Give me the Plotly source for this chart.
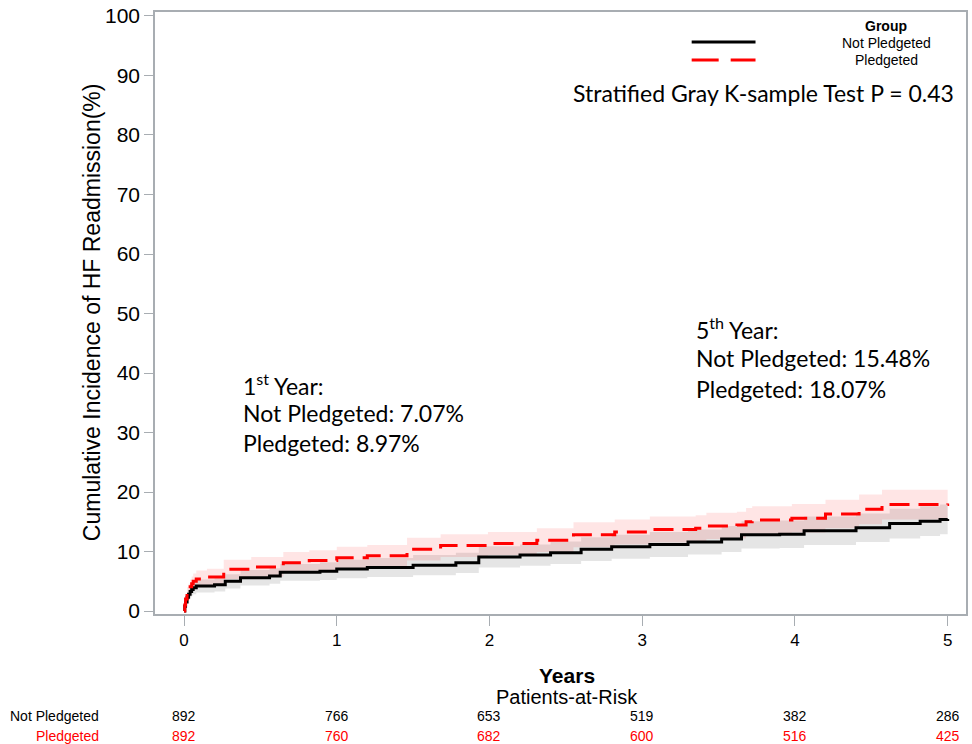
import plotly.graph_objects as go

# ---- data ----
t_not = [0, 0.005, 0.01, 0.02, 0.03, 0.04, 0.05, 0.06, 0.08, 0.2, 0.27, 0.37, 0.56, 0.63, 0.89, 1.0, 1.2,
         1.5, 1.78, 1.93, 2.2, 2.4, 2.6, 2.8, 3.05, 3.3, 3.52, 3.65, 3.9, 4.06, 4.4, 4.62, 4.82, 4.95, 5.0]
cif_not = [0, 0.8, 1.5, 2.3, 2.8, 3.3, 3.6, 3.9, 4.2, 4.4, 5.0, 5.6, 5.9, 6.5, 6.7, 7.07, 7.3,
           7.7, 8.1, 9.1, 9.4, 9.8, 10.4, 10.8, 11.2, 11.6, 12.1, 12.8, 12.9, 13.5, 14.0, 14.7, 15.1, 15.4, 15.48]
lo_not = [0, 0.3, 0.8, 1.4, 1.9, 2.3, 2.6, 2.8, 3.1, 3.3, 3.8, 4.3, 4.6, 5.1, 5.2, 5.5, 5.7,
          6.0, 6.4, 7.3, 7.6, 7.9, 8.4, 8.8, 9.1, 9.5, 9.9, 10.5, 10.6, 11.1, 11.6, 12.2, 12.6, 12.9, 12.9]
hi_not = [0, 1.3, 2.2, 3.1, 3.7, 4.3, 4.6, 5.0, 5.3, 5.5, 6.2, 6.9, 7.2, 7.9, 8.2, 8.6, 8.9,
          9.4, 9.8, 10.9, 11.2, 11.7, 12.4, 12.8, 13.3, 13.7, 14.3, 15.1, 15.2, 15.9, 16.4, 17.2, 17.6, 17.9, 18.0]

t_pl = [0, 0.005, 0.01, 0.02, 0.03, 0.04, 0.05, 0.06, 0.08, 0.15, 0.26, 0.44, 0.65, 0.82, 1.0, 1.2, 1.46,
        1.68, 1.99, 2.31, 2.55, 2.82, 3.05, 3.35, 3.42, 3.62, 3.68, 3.72, 3.98, 4.2, 4.42, 4.57, 5.0]
cif_pl = [0, 1.0, 2.0, 2.9, 3.5, 4.1, 4.6, 5.0, 5.4, 5.7, 7.0, 7.4, 8.1, 8.5, 8.97, 9.3, 10.4,
          11.0, 11.35, 11.9, 12.8, 13.3, 13.7, 13.9, 14.3, 14.45, 15.0, 15.3, 15.6, 16.3, 17.1, 17.9, 18.07]
lo_pl = [0, 0.4, 1.1, 1.8, 2.4, 2.9, 3.4, 3.7, 4.0, 4.3, 5.4, 5.8, 6.4, 6.8, 7.2, 7.5, 8.5,
         9.1, 9.4, 9.9, 10.7, 11.2, 11.5, 11.7, 12.1, 12.2, 12.7, 13.0, 13.2, 13.9, 14.6, 15.4, 15.5]
hi_pl = [0, 1.6, 2.9, 4.0, 4.6, 5.3, 5.8, 6.3, 6.8, 7.1, 8.6, 9.1, 9.9, 10.2, 10.8, 11.1, 12.3,
         12.9, 13.3, 13.9, 14.9, 15.4, 15.9, 16.1, 16.5, 16.7, 17.3, 17.6, 18.0, 18.7, 19.6, 20.4, 20.8]

risk_times = [0, 1, 2, 3, 4, 5]
risk_not = [892, 766, 653, 519, 382, 286]
risk_pl = [892, 760, 682, 600, 516, 425]
group_names = ["Not Pledgeted", "Pledgeted"]
y_ticks = list(range(0, 101, 10))
x_ticks = [0, 1, 2, 3, 4, 5]

# ---- figure ----
fig = go.Figure()
# confidence bands
fig.add_trace(go.Scatter(x=t_not, y=hi_not, mode="lines", line=dict(width=0, shape="hv"),
                         showlegend=False, hoverinfo="skip"))
fig.add_trace(go.Scatter(x=t_not, y=lo_not, mode="lines", line=dict(width=0, shape="hv"),
                         fill="tonexty", fillcolor="rgba(0,0,0,0.10)", showlegend=False, hoverinfo="skip"))
fig.add_trace(go.Scatter(x=t_pl, y=hi_pl, mode="lines", line=dict(width=0, shape="hv"),
                         showlegend=False, hoverinfo="skip"))
fig.add_trace(go.Scatter(x=t_pl, y=lo_pl, mode="lines", line=dict(width=0, shape="hv"),
                         fill="tonexty", fillcolor="rgba(255,0,0,0.10)", showlegend=False, hoverinfo="skip"))
# curves
fig.add_trace(go.Scatter(x=t_not, y=cif_not, mode="lines", name=group_names[0],
                         line=dict(color="black", width=3, shape="hv"), showlegend=False))
fig.add_trace(go.Scatter(x=t_pl, y=cif_pl, mode="lines", name=group_names[1],
                         line=dict(color="#ff0000", width=3, shape="hv", dash="20px,9px"), showlegend=False))

L, R, T, B = 155, 4, 12, 130
W, H = 972, 744
PW, PH = W - L - R, H - T - B


def px(x):
    return (x - L) / PW


def py(y):
    return (H - B - y) / PH


axis_col = "#a8adb2"
fig.update_layout(
    width=W, height=H,
    margin=dict(l=L, r=R, t=T, b=B),
    plot_bgcolor="white", paper_bgcolor="white",
    showlegend=False,
    xaxis=dict(range=[-0.19, 5.12], tickvals=x_ticks, ticks="outside", ticklen=10, tickcolor=axis_col,
               showline=True, linecolor=axis_col, linewidth=1.5, mirror=True, showgrid=False, zeroline=False,
               tickfont=dict(family="Liberation Sans, Arial", size=17, color="black")),
    yaxis=dict(range=[-0.5, 100.67], tickvals=y_ticks, ticks="outside", ticklen=9, tickcolor=axis_col,
               showline=True, linecolor=axis_col, linewidth=1.5, mirror=True, showgrid=False, zeroline=False,
               tickfont=dict(family="Liberation Sans, Arial", size=21, color="black")),
)

ann = []
# y-axis title
ann.append(dict(text="Cumulative Incidence of HF Readmission(%)", textangle=-90, xref="paper", yref="paper",
                x=px(92), y=py(312), xanchor="center", yanchor="middle", showarrow=False,
                font=dict(family="Liberation Sans, Arial", size=23, color="black")))
# x title and risk table header
ann.append(dict(text="<b>Years</b>", xref="paper", yref="paper", x=px(568), y=py(676), showarrow=False,
                xanchor="center", yanchor="middle",
                font=dict(family="Liberation Sans, Arial", size=21, color="black")))
ann.append(dict(text="Patients-at-Risk", xref="paper", yref="paper", x=px(568), y=py(697), showarrow=False,
                xanchor="center", yanchor="middle",
                font=dict(family="Liberation Sans, Arial", size=20, color="black")))
table_font = "Liberation Sans, Arial"
for name, counts, col, yy in [(group_names[0], risk_not, "black", 716), (group_names[1], risk_pl, "#ff0000", 736)]:
    ann.append(dict(text=name, xref="paper", yref="paper", x=px(101), y=py(yy), showarrow=False,
                    xanchor="right", yanchor="middle", font=dict(family=table_font, size=14, color=col)))
    for tx, n in zip(risk_times, counts):
        ann.append(dict(text=str(n), xref="x", yref="paper", x=tx, y=py(yy), showarrow=False,
                        xanchor="center", yanchor="middle", font=dict(family=table_font, size=14, color=col)))

# legend (manual)
ann.append(dict(text="<b>Group</b>", xref="paper", yref="paper", x=px(888), y=py(26), showarrow=False,
                xanchor="center", yanchor="middle", font=dict(family="Liberation Sans, Arial", size=14, color="black")))
ann.append(dict(text=group_names[0], xref="paper", yref="paper", x=px(888), y=py(43), showarrow=False,
                xanchor="center", yanchor="middle", font=dict(family="Liberation Sans, Arial", size=14, color="black")))
ann.append(dict(text=group_names[1], xref="paper", yref="paper", x=px(888), y=py(60), showarrow=False,
                xanchor="center", yanchor="middle", font=dict(family="Liberation Sans, Arial", size=14, color="black")))
shapes = [
    dict(type="line", xref="paper", yref="paper", x0=px(693), x1=px(757), y0=py(42), y1=py(42),
         line=dict(color="black", width=3)),
    dict(type="line", xref="paper", yref="paper", x0=px(693), x1=px(757), y0=py(60), y1=py(60),
         line=dict(color="#ff0000", width=3, dash="27px,12px")),
]

txt_font = dict(family="Lato, Open Sans, sans-serif", size=23, color="black")
ann.append(dict(text="Stratified Gray K-sample Test P = 0.43", xref="paper", yref="paper", x=px(958), y=py(93),
                showarrow=False, xanchor="right", yanchor="middle", font=txt_font))
for txt, yy in [("1<sup>st</sup> Year:", 384), ("Not Pledgeted: 7.07%", 413), ("Pledgeted: 8.97%", 443)]:
    ann.append(dict(text=txt, xref="paper", yref="paper", x=px(241), y=py(yy), showarrow=False,
                    xanchor="left", yanchor="middle", font=txt_font))
for txt, yy in [("5<sup>th</sup> Year:", 328), ("Not Pledgeted: 15.48%", 358), ("Pledgeted: 18.07%", 389)]:
    ann.append(dict(text=txt, xref="paper", yref="paper", x=px(695), y=py(yy), showarrow=False,
                    xanchor="left", yanchor="middle", font=txt_font))

fig.update_layout(annotations=ann, shapes=shapes)
fig.write_html("out.html")
